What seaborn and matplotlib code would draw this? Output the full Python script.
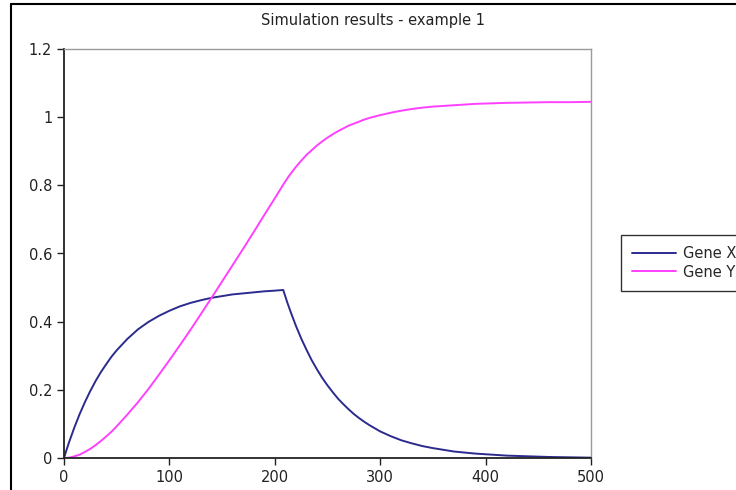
import numpy as np
import pandas as pd
import seaborn as sns
import matplotlib
matplotlib.use("Agg")
import matplotlib.pyplot as plt
from matplotlib.lines import Line2D

# time points and values
time = [0, 2, 5, 10, 15, 20, 25, 30, 35, 40, 45, 50, 60, 70, 80, 90, 100, 110,
        120, 130, 140, 150, 160, 170, 180, 190, 200, 208, 212, 215, 220, 225,
        230, 235, 240, 245, 250, 255, 260, 265, 270, 275, 280, 285, 290, 300,
        310, 320, 330, 340, 350, 360, 370, 380, 390, 400, 420, 440, 460, 480,
        500]
gene_x = [0, 0.020, 0.048, 0.091, 0.130, 0.165, 0.197, 0.226, 0.252, 0.275,
          0.297, 0.316, 0.349, 0.377, 0.399, 0.417, 0.432, 0.445, 0.455, 0.463,
          0.470, 0.475, 0.480, 0.483, 0.486, 0.489, 0.491, 0.493, 0.455, 0.429,
          0.388, 0.351, 0.318, 0.287, 0.260, 0.235, 0.213, 0.193, 0.174, 0.158,
          0.143, 0.129, 0.117, 0.106, 0.096, 0.078, 0.064, 0.052, 0.043, 0.035,
          0.029, 0.024, 0.019, 0.016, 0.013, 0.011, 0.007, 0.005, 0.003, 0.002,
          0.001]
gene_y = [0, 0.0002, 0.001, 0.005, 0.010, 0.018, 0.027, 0.038, 0.050, 0.063,
          0.077, 0.093, 0.127, 0.163, 0.202, 0.244, 0.287, 0.331, 0.376, 0.423,
          0.470, 0.518, 0.566, 0.614, 0.663, 0.713, 0.762, 0.802, 0.821, 0.834,
          0.854, 0.872, 0.889, 0.903, 0.917, 0.929, 0.940, 0.950, 0.959, 0.967,
          0.975, 0.981, 0.987, 0.993, 0.998, 1.006, 1.013, 1.019, 1.024, 1.028,
          1.031, 1.033, 1.035, 1.037, 1.039, 1.040, 1.042, 1.043, 1.044, 1.044,
          1.045]

series_names = ["Gene X", "Gene Y"]
colors = ["#2b2b8f", "#ff40ff"]

df = pd.DataFrame({"time": time, "Gene X": gene_x, "Gene Y": gene_y})
long = df.melt(id_vars="time", var_name="gene", value_name="value")

sns.set_style("ticks")
plt.rcParams["font.family"] = ["DejaVu Sans"]

fig = plt.figure(figsize=(7.36, 4.90), dpi=100)
ax = fig.add_axes([64 / 736, 1 - 458 / 490, (591 - 64) / 736, (458 - 49) / 490])

sns.lineplot(data=long, x="time", y="value", hue="gene", hue_order=series_names,
             palette=colors, linewidth=1.4, ax=ax, legend=False)

ax.set_xlim(0, 500)
ax.set_ylim(0, 1.2)
ax.set_xticks([0, 100, 200, 300, 400, 500])
ax.set_yticks([0, 0.2, 0.4, 0.6, 0.8, 1.0, 1.2])
ax.set_yticklabels(["0", "0.2", "0.4", "0.6", "0.8", "1", "1.2"])
ax.set_xlabel("")
ax.set_ylabel("")
ax.tick_params(axis="both", labelsize=10.5, colors="#222222", length=5, width=1)

for s in ["left", "bottom"]:
    ax.spines[s].set_color("#222222")
    ax.spines[s].set_linewidth(1.3)
for s in ["top", "right"]:
    ax.spines[s].set_visible(True)
    ax.spines[s].set_color("#9a9a9a")
    ax.spines[s].set_linewidth(1.0)

fig.suptitle("Simulation results - example 1", x=373 / 736, y=1 - 20 / 490,
             va="center", fontsize=10.5, color="#222222")

handles = [Line2D([], [], color=c, lw=1.4) for c in colors]
leg = fig.legend(handles, series_names, loc="upper left",
                 bbox_to_anchor=(621 / 736, 1 - 235 / 490), borderaxespad=0,
                 fontsize=10.5, frameon=True, fancybox=False, handlelength=3.0,
                 borderpad=0.75, labelspacing=0.25, handletextpad=0.5)
leg.get_frame().set_edgecolor("black")
leg.get_frame().set_linewidth(1.0)

# outer frame of the original window (left and top edges visible)
fig.add_artist(Line2D([11 / 736, 11 / 736], [0, 1 - 4 / 490], color="black",
                      lw=1.5, transform=fig.transFigure))
fig.add_artist(Line2D([11 / 736, 1], [1 - 4 / 490, 1 - 4 / 490], color="black",
                      lw=1.5, transform=fig.transFigure))

fig.savefig("out.png", dpi=100)
